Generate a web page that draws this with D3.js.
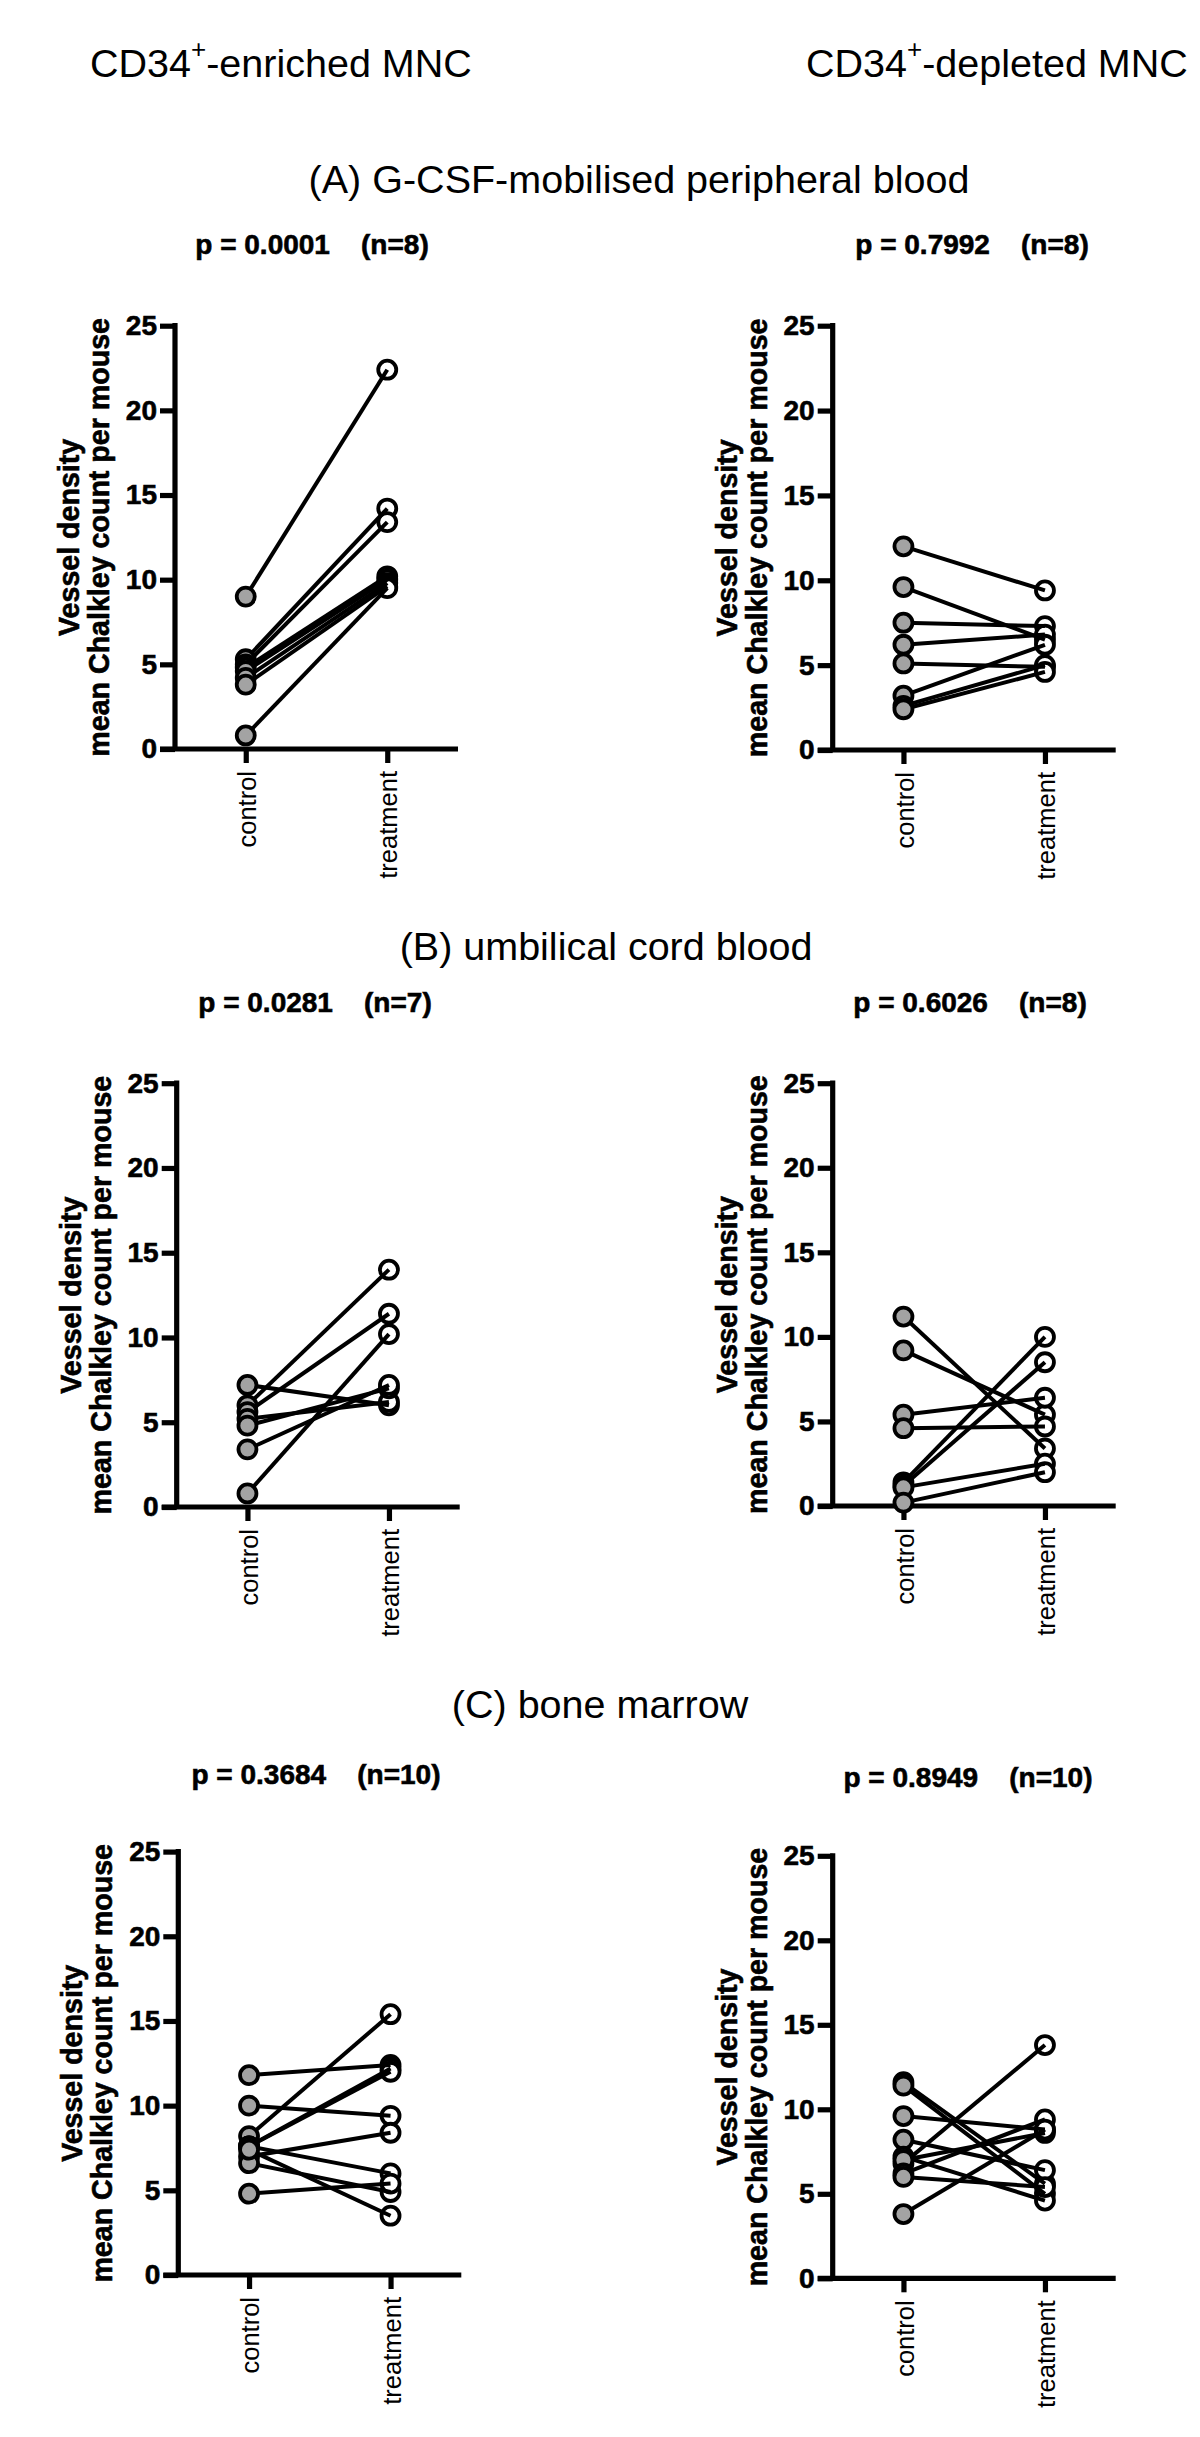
<!DOCTYPE html>
<html>
<head>
<meta charset="utf-8">
<script src="https://cdn.jsdelivr.net/npm/d3@7"></script>
<style>
  html, body { margin: 0; padding: 0; background: #fff; }
  svg { display: block; }
  text { font-family: "Liberation Sans", Arial, Helvetica, sans-serif; fill: #000; }
  .bold { font-weight: bold; stroke: #000; stroke-width: 0.6px; }
</style>
</head>
<body>
<svg id="chart" width="1200" height="2437"></svg>
<script>
// ---------------- data ----------------
const categories = ["control", "treatment"];
const yTicks = [0, 5, 10, 15, 20, 25];
const yLabelLines = ["Vessel density", "mean Chalkley count per mouse"];
const columnHeaders = [["CD34", "+", "-enriched MNC"], ["CD34", "+", "-depleted MNC"]];
const sectionTitles = ["(A) G-CSF-mobilised peripheral blood", "(B) umbilical cord blood", "(C) bone marrow"];
const pLabels = [
  "p = 0.0001    (n=8)", "p = 0.7992    (n=8)",
  "p = 0.0281    (n=7)", "p = 0.6026    (n=8)",
  "p = 0.3684    (n=10)", "p = 0.8949    (n=10)"
];

// (A) G-CSF-mobilised peripheral blood
const pbEnrichedControl   = [9.0, 5.3, 5.0, 4.8, 4.6, 4.2, 3.8, 0.8];
const pbEnrichedTreatment = [22.4, 14.2, 13.4, 10.2, 10.0, 9.8, 9.6, 9.5];
const pbDepletedControl   = [12.0, 9.6, 7.5, 6.2, 5.1, 3.2, 2.6, 2.4];
const pbDepletedTreatment = [9.4, 6.5, 7.3, 6.8, 4.9, 6.2, 5.0, 4.6];
// (B) umbilical cord blood
const cbEnrichedControl   = [7.2, 6.0, 5.6, 5.2, 4.8, 3.4, 0.8];
const cbEnrichedTreatment = [6.0, 14.0, 11.4, 6.2, 7.0, 7.2, 10.2];
const cbDepletedControl   = [11.2, 9.2, 5.4, 4.6, 1.4, 1.2, 1.1, 0.2];
const cbDepletedTreatment = [3.4, 5.4, 6.4, 4.7, 10.0, 8.5, 2.5, 2.0];
// (C) bone marrow
const bmEnrichedControl   = [11.8, 10.0, 8.2, 7.6, 7.6, 7.0, 7.6, 6.6, 7.4, 4.8];
const bmEnrichedTreatment = [12.4, 9.4, 15.4, 12.2, 12.0, 8.4, 6.0, 4.9, 3.5, 5.4];
const bmDepletedControl   = [11.6, 11.4, 9.6, 8.2, 7.2, 6.8, 7.0, 6.2, 6.0, 3.8];
const bmDepletedTreatment = [5.6, 5.0, 8.8, 6.4, 4.6, 13.8, 8.6, 9.4, 5.4, 8.8];

const seriesList = [
  [pbEnrichedControl, pbEnrichedTreatment], [pbDepletedControl, pbDepletedTreatment],
  [cbEnrichedControl, cbEnrichedTreatment], [cbDepletedControl, cbDepletedTreatment],
  [bmEnrichedControl, bmEnrichedTreatment], [bmDepletedControl, bmDepletedTreatment]
];

// ---------------- layout ----------------
const layout = [
  {axisX: 175,   yTop: 325.7,  yBot: 749,    pX: 312, pY: 254},
  {axisX: 832.7, yTop: 325.7,  yBot: 750,    pX: 972, pY: 254},
  {axisX: 176.7, yTop: 1083.2, yBot: 1507,   pX: 315, pY: 1012},
  {axisX: 832.7, yTop: 1083.2, yBot: 1506,   pX: 970, pY: 1012},
  {axisX: 178.3, yTop: 1851.6, yBot: 2275,   pX: 316, pY: 1784},
  {axisX: 832.7, yTop: 1855.8, yBot: 2278.3, pX: 968, pY: 1787}
];
const titleLayout = [
  {x: 639, y: 193},
  {x: 606, y: 960},
  {x: 600, y: 1718}
];
const axisLen = 283;
const AX_W = 5.2, LINE_W = 4, R = 9, SYM_W = 3.8;
const GRAY = "#a3a3a3";

const svg = d3.select("#chart");

// column headers
const headerX = [90, 806];
columnHeaders.forEach((parts, i) => {
  const t = svg.append("text")
    .attr("x", headerX[i]).attr("y", 77)
    .style("font-size", "39.5px");
  t.append("tspan").text(parts[0]);
  t.append("tspan").attr("dy", -19).style("font-size", "26px").text(parts[1]);
  t.append("tspan").attr("dy", 19).text(parts[2]);
});

// section titles
sectionTitles.forEach((s, i) => {
  svg.append("text")
    .attr("x", titleLayout[i].x).attr("y", titleLayout[i].y)
    .attr("text-anchor", "middle")
    .style("font-size", "39.5px")
    .text(s);
});

// panels
seriesList.forEach((pair, i) => {
  const L = layout[i];
  const g = svg.append("g");
  const x = d3.scalePoint().domain(categories).range([L.axisX, L.axisX + axisLen]).padding(0.5);
  const y = d3.scaleLinear().domain([0, 25]).range([L.yBot, L.yTop]);

  // p-value label
  g.append("text").attr("class", "bold")
    .attr("x", L.pX).attr("y", L.pY)
    .attr("text-anchor", "middle")
    .style("font-size", "28px")
    .style("white-space", "pre")
    .text(pLabels[i]);

  // y axis
  const yAxis = d3.axisLeft(y).tickValues(yTicks).tickSize(15).tickPadding(3).tickFormat(d3.format("d"));
  const ya = g.append("g").attr("transform", `translate(${L.axisX},0)`).call(yAxis);
  ya.select(".domain").attr("d", `M0,${y(25) - AX_W / 2}V${y(0)}`).attr("stroke", "#000").attr("stroke-width", AX_W).attr("fill", "none");
  ya.selectAll(".tick line").attr("stroke", "#000").attr("stroke-width", AX_W);
  ya.selectAll(".tick text").attr("class", "bold")
    .style("font-family", '"Liberation Sans", Arial, sans-serif')
    .style("font-size", "28px").attr("fill", "#000");

  // x axis
  const xAxis = d3.axisBottom(x).tickSize(14).tickSizeOuter(0).tickPadding(0);
  const xa = g.append("g").attr("transform", `translate(0,${L.yBot})`).call(xAxis);
  xa.select(".domain").attr("d", `M${L.axisX - 15},0H${L.axisX + axisLen}`).attr("stroke", "#000").attr("stroke-width", AX_W).attr("fill", "none");
  xa.selectAll(".tick line").attr("stroke", "#000").attr("stroke-width", AX_W);
  xa.selectAll(".tick text")
    .style("font-family", '"Liberation Sans", Arial, sans-serif')
    .style("font-size", "25.5px").attr("fill", "#000")
    .attr("text-anchor", "end")
    .attr("transform", "translate(0,22) rotate(-90)")
    .attr("x", 0).attr("y", 0).attr("dy", "0.38em");

  // y axis label
  const yc = (L.yTop + L.yBot) / 2;
  const offs = [-96, -66];
  yLabelLines.forEach((txt, k) => {
    g.append("text").attr("class", "bold")
      .attr("transform", `translate(${L.axisX + offs[k]},${yc}) rotate(-90)`)
      .attr("text-anchor", "middle")
      .style("font-size", "28.6px")
      .text(txt);
  });

  const ctrl = pair[0], trt = pair[1];
  const pairs = ctrl.map((c, k) => ({c, t: trt[k]}));

  // treatment symbols (open)
  g.selectAll(".trt").data(pairs).enter().append("circle")
    .attr("cx", x("treatment")).attr("cy", d => y(d.t)).attr("r", R)
    .attr("fill", "#fff").attr("stroke", "#000").attr("stroke-width", SYM_W);

  // connecting lines
  g.selectAll(".ln").data(pairs).enter().append("line")
    .attr("x1", x("control")).attr("y1", d => y(d.c))
    .attr("x2", x("treatment")).attr("y2", d => y(d.t))
    .attr("stroke", "#000").attr("stroke-width", LINE_W);

  // control symbols (grey)
  g.selectAll(".ctl").data(pairs).enter().append("circle")
    .attr("cx", x("control")).attr("cy", d => y(d.c)).attr("r", R)
    .attr("fill", GRAY).attr("stroke", "#000").attr("stroke-width", SYM_W);
});
</script>
</body>
</html>
